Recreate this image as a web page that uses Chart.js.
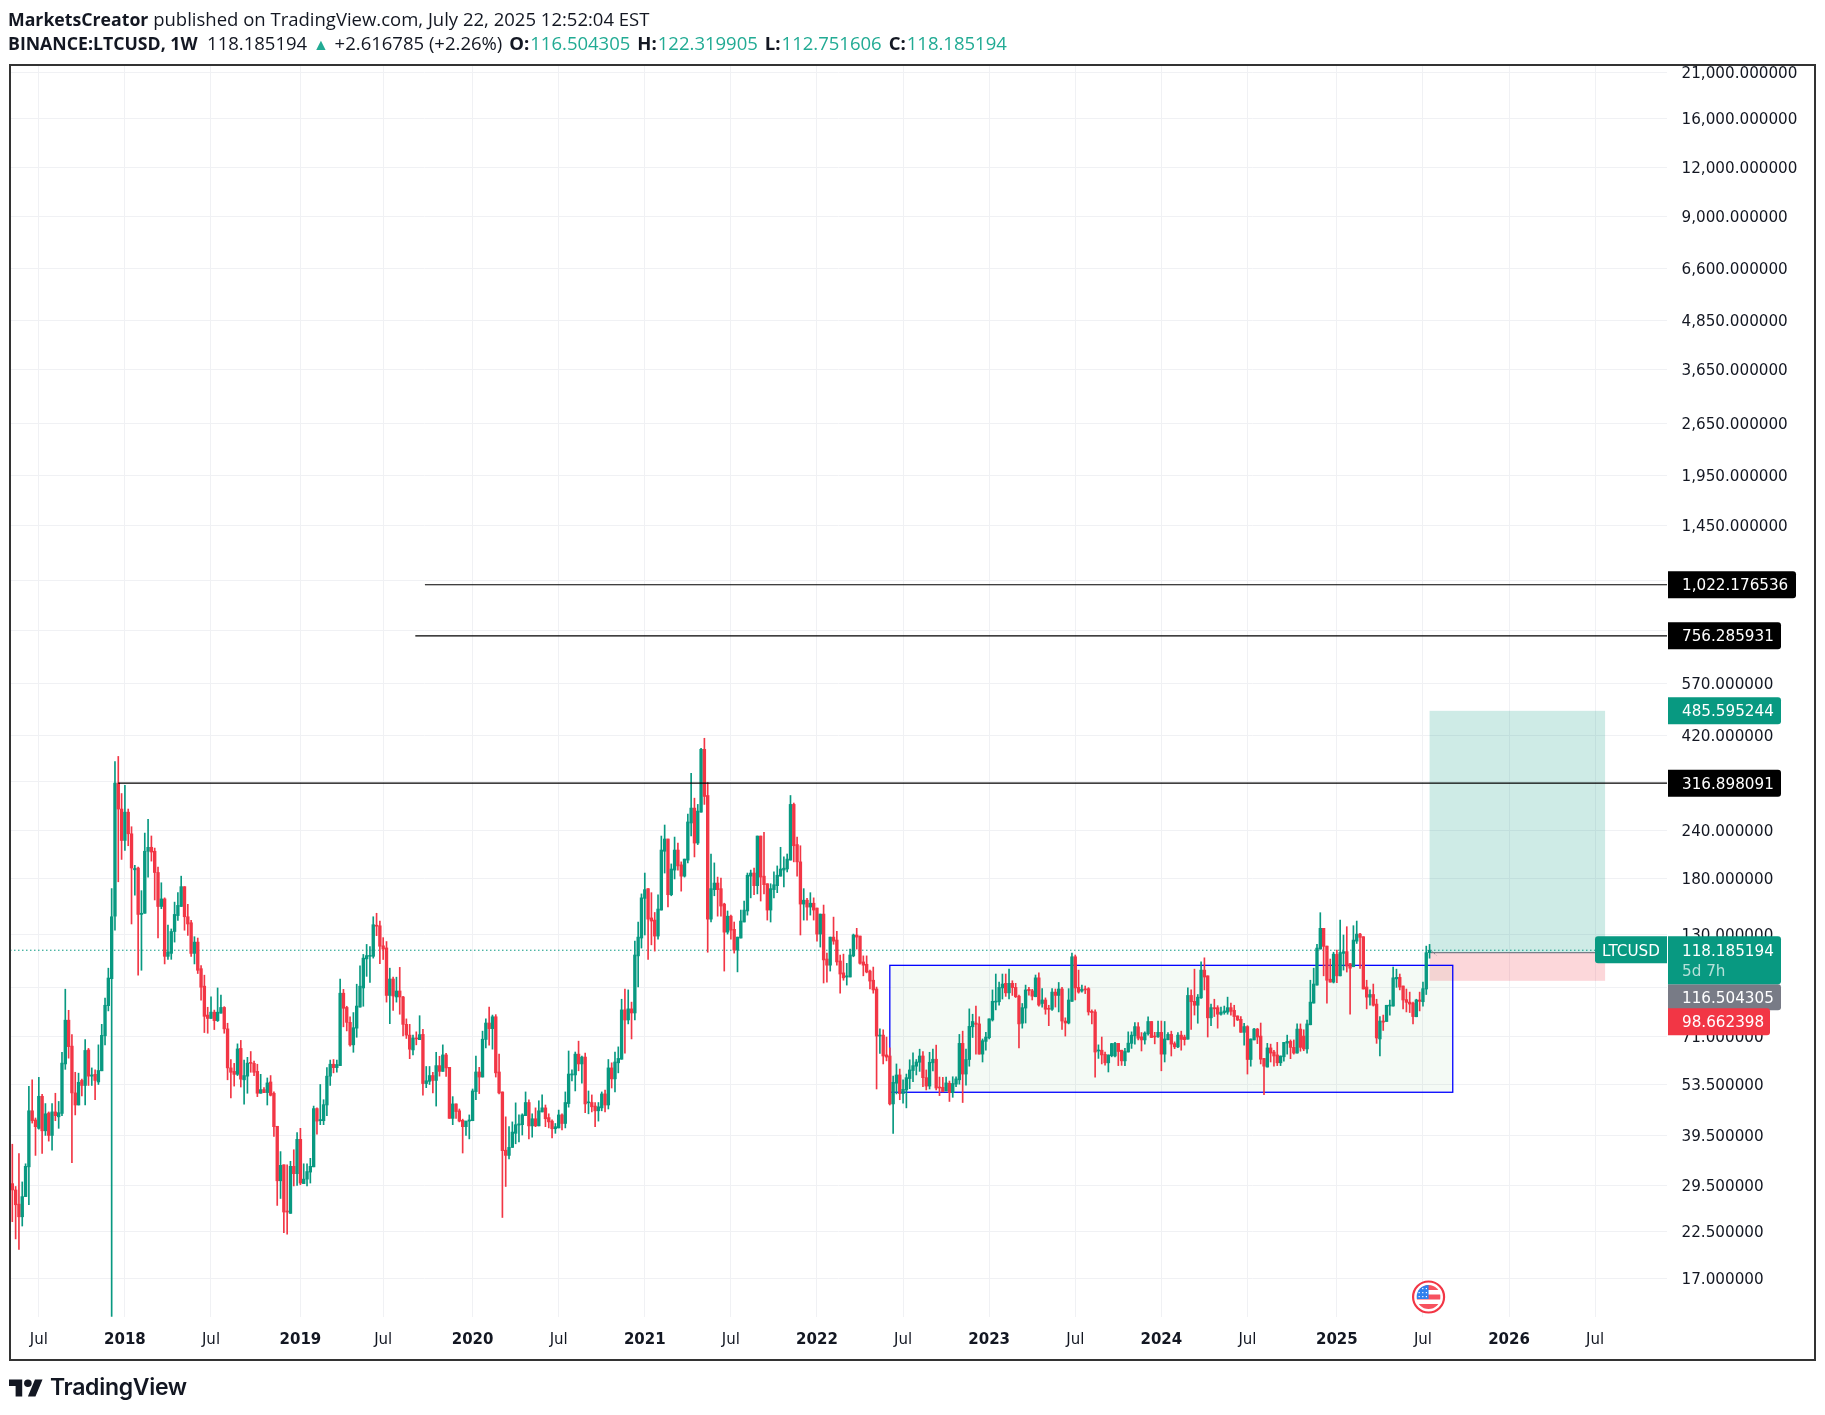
<!DOCTYPE html>
<html lang="en">
<head>
<meta charset="UTF-8">
<title>BINANCE:LTCUSD, 1W</title>
<script src="https://cdn.jsdelivr.net/npm/chart.js"></script>
<style>
  html, body { margin: 0; padding: 0; background: #fff; width: 1825px; height: 1415px; overflow: hidden; }
  #chart { position: absolute; left: 0; top: 0; }
  .head { position: absolute; left: 8px; font: 18.5px "Open Sans", sans-serif; color: #131722; white-space: nowrap; }
  .head b { font-weight: 700; font-size: 17.7px; }
  .head b.lbl { margin-left: 7px; font-size: 18.5px; margin-right: 1px; }
  .head i { font-style: normal; color: #22ab94; }
  .head i.up { font-size: 16px; margin: 0 1px; }
  #logoText { position: absolute; left: 50px; top: 1373px; font: 600 23px Inter, sans-serif; color: #131722; letter-spacing: -0.3px; }
  #logo { position: absolute; left: 9px; top: 1379px; }
</style>
</head>
<body>
<canvas id="chart" width="1825" height="1415"></canvas>
<div class="head" style="top:6px"><b>MarketsCreator</b> published on TradingView.com, July 22, 2025 12:52:04 EST</div>
<div class="head" style="top:30px"><b>BINANCE:LTCUSD, 1W</b>&nbsp; 118.185194 <i class="up">▲</i> +2.616785 (+2.26%)<b class="lbl">O:</b><i>116.504305</i><b class="lbl">H:</b><i>122.319905</i><b class="lbl">L:</b><i>112.751606</i><b class="lbl">C:</b><i>118.185194</i></div>
<svg id="logo" width="34" height="18" viewBox="0 4 36 18"><path fill="#131722" d="M14 22H7V11H0V4h14v18zM28 22h-8l7.5-18h8L28 22z"/><circle fill="#131722" cx="20" cy="8" r="4"/></svg>
<div id="logoText">TradingView</div>

<script>
  // weekly candles (first bar = May 2017, last = Jul 21 2025)
  const opens = [
    29.8,28.7,26.4,24.5,27.6,32.9,45.8,43.4,41.3,49.9,
    40.7,45.2,39.6,45.5,44.2,45.1,60.4,78.2,67.1,50.9,
    47.4,54.8,53.2,65.6,56.2,56.8,54.3,58,71.3,85.2,
    99.9,144.5,317,272,226,267,235,190,192,146,
    147,212,217,212,187,153,160,114,116,132,
    145,153,172,144,139,116,124,106,95.6,80.6,
    79,82,78,81.5,84.3,74.3,59,57.8,56.8,66.2,
    55,56.2,60.8,60.6,57.8,50.8,51.9,51,54.3,50.8,
    41.8,30.3,33.3,25.3,25,33,31.6,38.7,29.8,30.6,
    31.9,32.9,46.4,43.2,43.2,47.4,56.2,60.3,59.1,59.8,
    91.7,84.3,77.2,67.6,74.6,84.5,94.6,112.3,114,114,
    136.8,136.5,121.3,119.8,90.5,99.7,89.7,92.9,89.7,76.3,
    71.6,65.6,70.4,69.7,71.9,53.8,54.5,56.4,54.8,59.8,
    57.8,63.7,59.2,43.8,47.7,45.8,43.3,41.7,43.1,43.2,
    51.3,57.6,55.9,69.8,76.9,74.4,79.8,57.6,51.2,36.3,
    35.2,36.9,40.1,42.1,42.2,44.5,48.1,41.9,43.7,41.9,
    45.5,46.6,44,43.1,41.2,41.4,44.7,42.5,47.8,56.6,
    56.6,64,60.4,62.9,48,48.1,47.1,45.8,46.6,50.6,
    47.4,59,55.3,60.8,62.1,83.1,78.3,83.6,81.6,114.3,
    127,160.5,170,143,141.2,128.5,149.8,212,227.9,164,
    189.7,213.5,195.6,183,201.2,250.5,273.5,222.5,267,387,
    294.6,142,169,175.7,170,155.2,131.5,144.5,133.7,118.3,
    127,139.6,149,183,186.4,173,231.9,183,175,149.8,
    169,173,183,189.7,190.9,201.2,279.5,220.5,199.1,155.2,
    158.8,152.5,156,151.6,130,146.3,112.2,108.2,127.7,125.5,
    110.9,103.4,100.9,100.9,114.3,129.3,128.5,110.3,108.8,104.5,
    99,94,71.2,71.6,63.7,63.3,47.7,53.9,56.6,50.7,
    51.8,55.4,58.1,59.6,61,63.3,55.7,53,60.8,62.1,
    52.7,52.6,51.5,53.9,51,53.6,55,68.2,56.9,62,
    75.2,76.9,76.5,64,69,70.5,78.3,87,87.2,94.6,
    97.2,91.9,97.2,94.9,90.1,76.8,84,93.8,93,89.8,
    100.4,86.3,88.1,83.8,83.4,92.3,90.5,94,77.8,76.9,
    87.4,113.7,94.9,92.9,94,94.2,82.4,82.1,65.2,65.5,
    63.9,60.8,63.4,63.3,68.2,65.5,61.5,64.8,68.2,71.3,
    75.2,70.9,69.6,72.2,77.6,71.2,70.9,72.8,64,69.7,
    71.9,68.1,66.8,71.6,70.8,69.9,90.5,87.4,85.4,89.2,
    105.1,101.6,79.3,84.2,84.2,81,81.8,82,84.2,82.9,
    80.2,78.6,72.8,75.3,62,69.6,74.2,71.2,62.4,59.3,
    66.4,64.8,63.7,60.8,63,68.3,69,66.6,64.4,74.2,
    71.2,66,76.1,86.5,96.2,119,134.5,121.1,99.6,97.9,
    115.3,101.6,116,117.2,109.2,107.2,124.7,130,128,95.1,
    89.6,91,86,70,77.8,77.6,85,85,99.8,100.7,
    95.7,88.3,87,86.5,79.8,88.1,87.2,94,116.504305
  ];
  const highs = [
    37.6,29.3,35.6,30.1,33.5,52.9,55,43.9,55.8,50.5,
    47.8,45.5,47.8,50.8,48.4,64.7,93.9,82.9,71.8,57.5,
    57.2,55.2,69.7,66.2,59,58.3,67.6,76.3,89.1,106.3,
    170,360,371,298,313,272,245,195,193,168,
    236,256,232,216,193,176,161,137,134,157,
    166,183,172,155,141,128,127,108,102,84.4,
    89.7,83,94.6,90.7,84.7,76.8,62,60.6,68,69.4,
    61.8,62.8,65,61.4,60.3,56.8,52.5,55.6,56.4,51.2,
    41.8,36,33.3,33.3,34,36.4,40.3,41.3,33.5,33.5,
    34.6,47.1,46.6,53.5,48.9,59.1,61.8,62,61.8,99.7,
    93.8,84.9,79.8,81.8,96.7,107.8,115.3,122.3,120.8,144,
    147,140.4,127.3,124.4,106.3,100.8,100.8,106.8,90,78.8,
    76.3,71.6,73,80.3,74.1,59.5,59.5,57.5,64.7,63.2,
    67.6,64.3,59.2,49.8,47.7,46.3,43.6,43.1,44.7,52.1,
    63.3,59.2,73.3,78.8,84.5,80.6,80.8,64,51.2,44.2,
    41.7,42.9,48,44.7,45,51.2,48.9,45,46.6,48.6,
    50.3,47.4,45,43.4,42.5,46,45,51.2,65.2,58.3,
    64.8,69.1,63.3,64.4,51.5,50.3,48.1,48.1,51.2,51.8,
    62,60.8,64.8,66.8,88.5,94,93.5,87,124.7,139.6,
    164.8,186.4,170,166,147.7,164,231.9,247.5,227.9,196.7,
    230.5,222.5,199.1,202.4,264,336,290,279.5,389,413,
    318,208.6,197.9,182,181,156,149,145.4,139.6,127.7,
    149.8,158,186.4,189.7,191.8,231.9,231.9,237,175,175,
    187.6,194.4,217,205,208.6,294.6,281.8,230.5,219,170,
    160.5,166,161,151.6,146.3,154.3,116.2,127.7,143.7,132.2,
    114.9,115.5,109.4,119,130,134.5,128.5,114.3,114.3,105.1,
    107,95.1,74.3,73.9,70.8,66.4,56.2,60.4,58.6,55,
    56.9,61.9,64.5,62,65.9,65,58.3,64.7,65.9,67.5,
    55.9,55.8,55.9,54.6,56,56,71.9,73.3,65.9,83.6,
    81,85,79.8,70,72.8,78.8,93.5,102.7,97.9,102.7,
    102.7,105.7,98.7,97.2,90.7,86.3,96.2,94.9,93.8,102.1,
    103.4,94.2,89.2,85.4,94.2,94,97.7,94.9,79.3,94.2,
    116.2,114.9,105.1,96.2,95.7,94.8,83.1,83.1,67.6,70.8,
    64.8,63.7,68.2,68.6,68.2,65.5,66.2,73,73,77.1,
    77.1,72.7,73,79.8,77.6,72.8,77.8,77.8,77.6,72.7,
    73.3,68.8,72.7,73.3,71.6,94.6,93.5,105.7,91,110.3,
    113,101.6,86,88.5,85.2,84.5,85,89.6,86.5,85.4,
    80.2,79.9,76.8,75.7,70,74.5,74.5,76.9,62.4,68.2,
    67.9,65.5,68.6,63.3,68.6,71.6,69.6,69.6,76.5,76.5,
    73.9,78.3,99,106.3,122.3,147.5,134.5,121.1,112.2,116.8,
    118.3,141.2,129.3,135.8,109.2,136.6,140.4,130.6,128,99,
    93.5,96.8,88.5,79.9,80.6,85.4,88.1,107,105.7,102.7,
    95.7,94,92.3,87,88.5,92.3,97.9,121.1,122.319905
  ];
  const lows = [
    23.8,21.5,20.2,23.2,27.6,26.3,42.6,35.2,41.1,35.6,
    39.6,38.3,36.3,43.2,41.3,44.5,58.5,62.5,33.7,44.7,
    47.4,50,47.4,53.2,53.2,48.9,53.5,58,67.6,82.6,
    13.6,133,177,202,213,219,138,163.5,102,105,
    147,182,200,159,127,151,109,112,112,124,
    141,153,133,129,114,109,103,88,72.7,72.4,
    79,74,77.6,81.5,72.4,55,49.4,53,56.4,52.7,
    47.6,50.8,57.5,56.4,49.8,50.8,51,47.4,50,39.4,
    26.2,27.3,22.3,22.1,25,29.4,29.5,29.6,29.8,29.4,
    29.9,32.9,39.9,42.2,42.2,44.5,53.2,57.3,57.5,59.8,
    75.2,73.4,67.1,64.7,70.7,84.5,84.9,101.3,97.8,112.8,
    128.8,109.2,111.9,87,76.6,82.9,87,81,71.3,70.2,
    62.3,63.7,67.6,69.7,50.2,52.5,53.5,50.9,47.1,56.2,
    57.8,56.1,43.8,42.2,43.8,42.9,35.7,39.6,38.8,43.2,
    48.9,50.7,55.9,66.4,67.5,65.9,55.9,50.6,24.4,29.3,
    34.5,36.9,37.7,38.1,39.7,44.5,38.8,39.2,41.7,41.9,
    45.5,41.7,41.4,39,40.1,41.4,40.9,41.4,46.8,54.6,
    51.5,58,53.9,45.3,45,45.5,41.7,43.1,45.8,45.5,
    46.3,52.4,51.2,57.3,62.1,64.4,76.5,70,78.3,95.1,
    119.7,129.3,112,122,117.6,126.2,149.8,186.4,152.5,163,
    180,189.7,167.5,182,197.9,231.9,205,220.5,267,279.5,
    116.8,139.6,163,144.5,144.5,104.5,130,126.2,116.2,104,
    127,139.6,145.4,161,164,164.8,158,164.8,141.2,139.6,
    161,166,183,171.7,187.6,201.2,199.1,183,129.3,141.2,
    141.2,145.4,141.2,124.7,120.4,97.4,97.9,104.5,122.4,108.2,
    91.7,99,96.2,100.9,113.7,119,108.8,101.6,103.4,94,
    91.7,52.1,64.3,60.4,61.5,47.4,40.1,50.6,48.9,47.9,
    46.6,52.2,54.4,56.6,57.8,52.8,51.8,52.1,58,51.8,
    50.1,51.2,51.5,48.4,49.6,52.8,53.6,48.1,53.3,59.6,
    70.6,64,64,61.1,65.5,70,77.8,83.1,85.4,88.6,
    90,88.6,90.5,89.4,66.4,74.6,76.9,90.7,88.1,89.8,
    85,84.5,81,75.7,82.8,84.5,82.1,74,71.2,76.5,
    87.4,88.1,91.7,92.3,91.5,80.6,76.5,55.9,62.4,60.4,
    60,57.6,63,63,59.8,59.9,59.8,64.8,66.2,67.9,
    69.6,65.2,67.9,71.6,70.6,68,70.6,58,61.1,69.6,
    63.3,66.1,66.5,65.5,67.5,69.9,74,80.6,76.8,88.9,
    93.5,70.8,75.7,79.9,74.6,80.6,81,81,80.6,75.4,
    78,72.8,67.5,56.9,59.6,69.6,68.1,60.4,50.4,59.3,
    61.1,59.6,59.8,59.8,61.4,64,62.3,64,64.4,65.1,
    65.3,64.4,76.1,86.5,96.2,119,101.6,86.5,97.9,97.4,
    97.6,101.6,105.1,103.9,81,107.2,123,106.1,94,83.6,
    85.4,85,68.2,63.3,73.6,77.6,80.6,85,94.9,93.5,
    83.6,82.1,81.8,76.5,79.8,82.6,85,91,112.751606
  ];
  const closes = [
    28.7,26.3,24.5,27.6,33,45.8,43.2,41.7,49.9,40.7,
    45,39.6,45.5,44.5,45.3,60.7,78.2,66.9,50.9,47.4,
    54.2,53.2,65.4,56.2,56.6,54.8,58.1,71.5,85.4,100.3,
    144,317,272,225.9,267,235,192,191.5,146,147,
    212,217,211,187,153,160,114,117,132,146,
    154,172,144,138,116,124,105,95,80,79,
    82,78,82,84.3,74.3,59,57.5,56.8,66,55.2,
    56.4,60.7,60.6,57.5,50.8,51.9,51,54,50.2,41.7,
    30.3,33.2,25.2,25.2,33,31.6,38.7,29.9,30.6,32,
    33,46.4,43.1,43.5,47.5,56.2,60.3,59.1,60.2,91.7,
    83.9,77.2,67.6,74.8,85,95.6,112.8,114.5,114.7,137.4,
    136.2,121,119,90.5,99.7,90.2,92.9,89.7,76.3,71.6,
    65.9,70.4,70,71.8,53.8,54.7,56.4,54.8,59.8,57.8,
    63.7,59,43.8,47.7,45.6,43.1,41.7,43.1,43.4,51.5,
    57.6,55.9,69.9,76.9,74.4,79.8,57.3,50.9,36.2,35.2,
    36.9,40.4,42.2,42.4,44.7,48.1,41.9,43.7,41.9,45.8,
    46.6,43.7,42.9,41.2,41.7,44.7,42.5,48.1,56.9,56.9,
    64,60.4,62.9,47.7,48.1,46.9,45.8,46.9,50.6,47.4,
    59,55.3,61.1,62.4,83.1,78.3,83.6,81.6,114.9,127.7,
    161,169,142,140.4,128.5,150.7,213.5,227.9,164,190.9,
    213.5,194.4,183,202.4,252,273.5,222.5,268.7,387,293,
    142,170,175.7,169,153.4,131.5,144.5,133,118.3,127.7,
    140.4,149.8,184,186.4,173,231.9,182,174,149.8,170,
    174,184,190.9,191.8,202.4,279.5,219,199.1,155.2,158.8,
    152.5,156,149.8,130,146.3,111.6,108.2,127.7,124.7,110.3,
    102.7,100.4,101.6,114.9,129.3,127.7,109.4,108.2,103.9,98.5,
    93.5,71.2,71.6,63.3,62.9,47.7,54.2,56.6,50.7,52,
    55.7,58.3,59.8,61.1,63.3,55.7,53,61,62.1,52.4,
    52.4,51.3,54,51,53.8,55.3,68.2,56.9,62,75.4,
    77.6,76.3,64,69.3,70.8,78.8,87.4,87.4,94.9,96.8,
    91.9,97.2,94.8,89.8,76.5,84.2,93.5,93.1,90.1,100.4,
    85.5,88.1,83.4,83.4,92.3,90.5,94,77.8,76.9,88.1,
    113.7,94.6,92.3,93.8,93.5,82.1,81.8,64.8,65.5,63.7,
    60.8,63.7,68.1,68.2,65,61.5,65,68.3,71.6,75.3,
    70.3,69.6,72.5,77.6,70.6,70.8,72.8,64,70,71.9,
    67.9,66.8,71.6,69.8,69.7,90.5,87.2,85.4,89.6,105.1,
    100.9,79.3,84.2,83.6,81,82,82.6,84.2,82.4,79.9,
    78.3,72.8,75.3,62,70,74.2,70.8,62.1,59.6,66.4,
    64.4,63.3,60.8,63.3,68.6,69,66.6,64.4,74.2,66.6,
    66,76.5,87,96.8,119.7,134.5,120.9,99,97.9,115.5,
    101.6,116.6,117.2,107.6,106.3,125.5,130,127.5,94,89.6,
    91,85.4,70.4,77.8,77.3,85.4,85.4,100.4,100.7,95.1,
    88.1,86.9,86,79.9,88.1,87.4,94.2,116.5,118.185194
  ];

  // axes
  const timeTicks = [8, 34, 60, 87, 112, 139, 165, 191, 217, 243, 269, 295, 321, 347, 373, 400, 426, 452, 478];
  const timeLabels = ['Jul', '2018', 'Jul', '2019', 'Jul', '2020', 'Jul', '2021', 'Jul', '2022', 'Jul', '2023', 'Jul', '2024', 'Jul', '2025', 'Jul', '2026', 'Jul'];
  const priceTicks = [17, 22.5, 29.5, 39.5, 53.5, 71, 95, 130, 180, 240, 320, 420, 570, 780, 1050, 1450, 1950, 2650, 3650, 4850, 6600, 9000, 12000, 16000, 21000];
  const coveredTicks = [95, 320, 780, 1050];   // grid line only, the price tags sit on these

  // drawings on the chart
  const levelPrices = [1022.176536, 756.285931, 316.898091];
  const levelStarts = [124.6, 121.7, 32];
  const rangeBox = { from: 265, to: 435, top: 108.1, bottom: 51.1 };
  const longPos = { from: 428, to: 481, entry: 116.504305, target: 485.595244, stop: 98.662398 };
  const lastPrice = 118.185194;
  const stubX = [428.5, 430.1], stubY = [118, 114.5];   // little dashed stub right of the last bar

  const UP = '#089981', DOWN = '#f23645';
  const X_MIN = -0.7, X_MAX = 499.7;
  const AXIS_FONT = '"DejaVu Sans", sans-serif';
  const TAG_TEXT_X = 1682;

  const bodies = opens.map((o, i) => ({ x: i, y: [o, closes[i]] }));
  const wicks = highs.map((h, i) => ({ x: i, y: [lows[i], h] }));
  const barColor = ctx => closes[ctx.dataIndex] >= opens[ctx.dataIndex] ? UP : DOWN;

  const fmtPrice = v => v.toLocaleString('en-US', { minimumFractionDigits: 6, maximumFractionDigits: 6 });

  function tag(c, x0, x1, yMid, h, color, text) {
    c.fillStyle = color;
    c.beginPath();
    c.roundRect(x0, yMid - h / 2, x1 - x0, h, [0, 3, 3, 0]);
    c.fill();
    c.fillStyle = '#fff';
    c.font = '15.2px ' + AXIS_FONT;
    c.textAlign = 'left';
    c.textBaseline = 'middle';
    c.fillText(text, TAG_TEXT_X, yMid + 1.5);
  }

  const drawings = {
    id: 'drawings',
    beforeDatasetsDraw(chart) {
      const c = chart.ctx, xs = chart.scales.x, ys = chart.scales.y;
      c.save();
      // range box
      const bx0 = xs.getPixelForValue(rangeBox.from), bx1 = xs.getPixelForValue(rangeBox.to);
      const by0 = ys.getPixelForValue(rangeBox.top), by1 = ys.getPixelForValue(rangeBox.bottom);
      c.fillStyle = 'rgba(76,175,80,0.06)';
      c.fillRect(bx0, by0, bx1 - bx0, by1 - by0);
      // long position
      const lx0 = xs.getPixelForValue(longPos.from), lx1 = xs.getPixelForValue(longPos.to);
      const ey = ys.getPixelForValue(longPos.entry);
      const ty = ys.getPixelForValue(longPos.target), sy = ys.getPixelForValue(longPos.stop);
      c.fillStyle = 'rgba(8,153,129,0.2)';
      c.fillRect(lx0, ty, lx1 - lx0, ey - ty);
      c.fillStyle = 'rgba(242,54,69,0.2)';
      c.fillRect(lx0, ey, lx1 - lx0, sy - ey);
      c.strokeStyle = '#787b86';
      c.lineWidth = 1.2;
      c.beginPath(); c.moveTo(lx0, ey); c.lineTo(lx1, ey); c.stroke();
      c.strokeStyle = '#0000ff';
      c.lineWidth = 1.3;
      c.strokeRect(bx0, by0, bx1 - bx0, by1 - by0);
      c.restore();
    },
    afterDraw(chart) {
      const c = chart.ctx, xs = chart.scales.x, ys = chart.scales.y;
      const right = chart.chartArea.right, left = right + 1;
      c.save();
      // dashed stub
      c.strokeStyle = '#787b86';
      c.lineWidth = 1;
      c.setLineDash([2, 1.5]);
      c.beginPath();
      c.moveTo(xs.getPixelForValue(stubX[0]), ys.getPixelForValue(stubY[0]));
      c.lineTo(xs.getPixelForValue(stubX[1]), ys.getPixelForValue(stubY[1]));
      c.stroke();
      c.setLineDash([]);

      // price tags
      levelPrices.forEach(p => {
        tag(c, left, p >= 1000 ? 1796 : 1781, ys.getPixelForValue(p), 27, '#000', fmtPrice(p));
      });
      tag(c, left, 1781, ys.getPixelForValue(longPos.target), 27, UP, fmtPrice(longPos.target));

      const lastY = ys.getPixelForValue(lastPrice);
      c.fillStyle = UP;
      c.beginPath();
      c.roundRect(1595, lastY - 14, right - 1595, 27, [3, 0, 0, 3]);
      c.fill();
      c.fillStyle = '#fff';
      c.font = '15.2px ' + AXIS_FONT;
      c.textAlign = 'center';
      c.textBaseline = 'middle';
      c.fillText('LTCUSD', (1595 + right) / 2, lastY + 1.5);

      // countdown tag takes two lines, entry and stop tags stack below it
      tag(c, left, 1781, lastY + 47, 26, '#787b86', fmtPrice(longPos.entry));
      tag(c, left, 1770, lastY + 71.5, 27, DOWN, fmtPrice(longPos.stop));
      c.fillStyle = UP;
      c.beginPath();
      c.roundRect(left, lastY - 14, 1781 - left, 48, [0, 3, 3, 0]);
      c.fill();
      c.fillStyle = '#fff';
      c.textAlign = 'left';
      c.fillText(fmtPrice(lastPrice), TAG_TEXT_X, lastY + 1.5);
      c.fillStyle = 'rgba(255,255,255,0.7)';
      c.fillText('5d 7h', TAG_TEXT_X, lastY + 22);

      // event flag under the last bar
      const fx = xs.getPixelForValue(428) - 1, fy = 1297;
      c.beginPath(); c.arc(fx, fy, 15.5, 0, Math.PI * 2);
      c.fillStyle = '#fff'; c.fill();
      c.strokeStyle = DOWN; c.lineWidth = 2.2; c.stroke();
      c.save();
      c.beginPath(); c.arc(fx, fy, 12, 0, Math.PI * 2); c.clip();
      c.fillStyle = '#f7525f';
      c.fillRect(fx - 12, fy - 12, 24, 5);
      c.fillRect(fx - 12, fy - 2.5, 24, 5);
      c.fillRect(fx - 12, fy + 7, 24, 5);
      c.fillStyle = '#2f80ed';
      c.fillRect(fx - 12, fy - 12, 12, 14);
      c.fillStyle = '#fff';
      for (let a = 0; a < 3; a++) for (let b = 0; b < 3; b++) c.fillRect(fx - 10 + b * 3.6, fy - 9 + a * 4, 1.2, 1.2);
      c.restore();

      // frame
      c.strokeStyle = '#333';
      c.lineWidth = 2;
      c.strokeRect(10, 65, 1805, 1295);
      c.restore();
    }
  };

  const levelSets = levelPrices.map((p, i) => ({
    type: 'line',
    data: [{ x: levelStarts[i], y: p }, { x: X_MAX, y: p }],
    borderColor: '#000',
    borderWidth: 1.2,
    pointRadius: 0,
    order: -1
  }));

  new Chart(document.getElementById('chart').getContext('2d'), {
    type: 'bar',
    data: {
      datasets: [
        ...levelSets,
        {
          type: 'line',
          data: [{ x: X_MIN, y: lastPrice }, { x: X_MAX, y: lastPrice }],
          borderColor: UP,
          borderWidth: 1,
          borderDash: [1.5, 2.5],
          pointRadius: 0,
          order: 2
        },
        { data: bodies, backgroundColor: barColor, barThickness: 2.7, minBarLength: 1, grouped: false, order: 0 },
        { data: wicks, backgroundColor: barColor, barThickness: 1, grouped: false, order: 1 }
      ]
    },
    options: {
      responsive: false,
      animation: false,
      events: [],
      layout: { padding: { left: 10, top: 65, right: 10, bottom: 55 } },
      plugins: { legend: { display: false }, tooltip: { enabled: false } },
      scales: {
        x: {
          type: 'linear',
          min: X_MIN,
          max: X_MAX,
          bounds: 'data',
          offset: false,
          grid: { color: '#f0f1f4', offset: false, drawTicks: false },
          border: { display: false },
          afterBuildTicks: axis => { axis.ticks = timeTicks.map(v => ({ value: v })); },
          afterFit: axis => { axis.height = 43; },
          ticks: {
            autoSkip: false,
            maxRotation: 0,
            padding: 14,
            color: '#131722',
            font: ctx => ({
              family: AXIS_FONT,
              size: 15,
              weight: ctx.tick && timeLabels[timeTicks.indexOf(ctx.tick.value)] !== 'Jul' ? 'bold' : 'normal'
            }),
            callback: v => timeLabels[timeTicks.indexOf(v)]
          }
        },
        y: {
          type: 'logarithmic',
          position: 'right',
          min: 13.56,
          max: 21980,
          bounds: 'data',
          grid: { color: '#f0f1f4', drawTicks: false },
          border: { display: false },
          afterBuildTicks: axis => { axis.ticks = priceTicks.map(v => ({ value: v })); },
          afterFit: axis => { axis.width = 148; },
          ticks: {
            autoSkip: false,
            padding: 14.5,
            labelOffset: 1.5,
            crossAlign: 'near',
            color: '#131722',
            font: { family: AXIS_FONT, size: 15.2 },
            callback: v => coveredTicks.includes(v) ? '' : fmtPrice(v)
          }
        }
      }
    },
    plugins: [drawings]
  });
</script>
</body>
</html>
